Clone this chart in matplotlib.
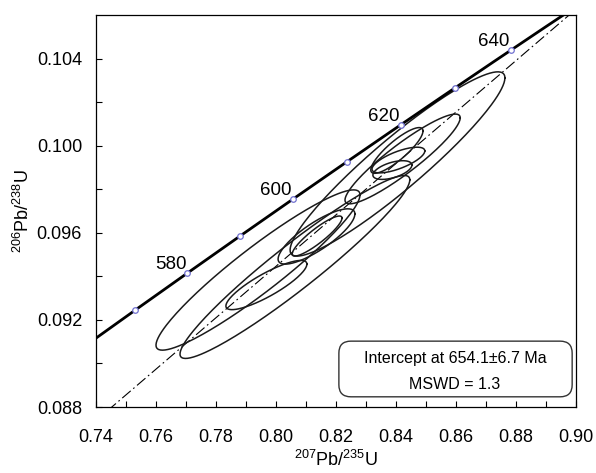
import numpy as np
import matplotlib.pyplot as plt
from matplotlib.patches import FancyBboxPatch

plt.rcParams["font.family"] = ["Liberation Sans", "DejaVu Sans"]
plt.rcParams["mathtext.fontset"] = "custom"
plt.rcParams["mathtext.rm"] = "Liberation Sans"

# decay constants (1/yr)
L238 = 1.55125e-10
L235 = 9.8485e-10

# concordia age marks (Ma)
marker_ages = [570, 580, 590, 600, 610, 620, 630, 640]
label_ages = [580, 600, 620, 640]

# discordia intercepts (Ma)
upper_age = 654.1
lower_age = 0.0

# analyses: 207Pb/235U, 206Pb/238U, 2s errors, error correlation
x_ratio = [0.7940, 0.8063, 0.7968, 0.8135, 0.8137, 0.8403, 0.8408, 0.8388, 0.8422, 0.8405]
x_err = [0.0340, 0.0383, 0.0135, 0.0128, 0.0083, 0.0087, 0.0088, 0.0065, 0.0192, 0.0358]
y_ratio = [0.09429, 0.09443, 0.09360, 0.09583, 0.09585, 0.09978, 0.09934, 0.09888, 0.09939, 0.09916]
y_err = [0.00368, 0.00420, 0.00113, 0.00127, 0.00092, 0.00105, 0.00059, 0.00043, 0.00206, 0.00423]
rho = [0.937, 0.952, 0.850, 0.815, 0.895, 0.852, 0.707, 0.530, 0.916, 0.934]

intercept_text = "Intercept at 654.1\u00b16.7 Ma"
mswd_text = "MSWD = 1.3"


def concordia(t_ma):
    t = np.asarray(t_ma) * 1e6
    return np.exp(L235 * t) - 1, np.exp(L238 * t) - 1


fig = plt.figure(figsize=(5.96, 4.73), dpi=100)
ax = fig.add_axes([96 / 596, 66 / 473, 480 / 596, 392 / 473])

# discordia
dx, dy = concordia([lower_age, upper_age])
ax.plot(dx, dy, color="black", lw=0.8, ls=(0, (10, 3, 1.5, 3)), zorder=2)

# concordia curve
tt = np.linspace(540, 680, 300)
cx, cy = concordia(tt)
ax.plot(cx, cy, color="black", lw=2.0, zorder=3)

mx, my = concordia(marker_ages)
ax.plot(mx, my, "o", ms=4, mfc="white", mec="#7070d0", mew=0.9, zorder=4)
for age in label_ages:
    px, py = concordia(age)
    ax.annotate(str(age), (px, py), xytext=(-12, 0), textcoords="offset points",
                ha="center", va="bottom", fontsize=13.5)

# error ellipses
t = np.linspace(0, 2 * np.pi, 200)
for x0, sx, y0, sy, r in zip(x_ratio, x_err, y_ratio, y_err, rho):
    ex = x0 + sx * np.cos(t)
    ey = y0 + sy * (r * np.cos(t) + np.sqrt(1 - r ** 2) * np.sin(t))
    ax.plot(ex, ey, color="#1a1a1a", lw=1.1, zorder=2)

ax.set_xlim(0.74, 0.90)
ax.set_ylim(0.088, 0.106)
ax.set_xticks(np.arange(0.74, 0.9001, 0.02))
ax.set_xticks(np.arange(0.75, 0.9, 0.02), minor=True)
ax.set_yticks(np.arange(0.088, 0.1041, 0.004))
ax.set_yticks(np.arange(0.090, 0.106, 0.004), minor=True)
ax.xaxis.set_major_formatter(plt.FormatStrFormatter("%.2f"))
ax.yaxis.set_major_formatter(plt.FormatStrFormatter("%.3f"))
ax.tick_params(which="both", direction="in", length=4, width=0.8, labelsize=13)
ax.tick_params(axis="x", pad=16)
ax.tick_params(axis="y", pad=10)
for s in ax.spines.values():
    s.set_linewidth(0.9)

ax.set_xlabel(r"$\mathregular{^{207}Pb/^{235}U}$", fontsize=13, labelpad=3)
ax.set_ylabel(r"$\mathregular{^{206}Pb/^{238}U}$", fontsize=13, labelpad=3)

box = FancyBboxPatch((0.506, 0.026), 0.486, 0.142, transform=ax.transAxes,
                     boxstyle="round,pad=0,rounding_size=0.025", mutation_aspect=1.22,
                     facecolor="white", edgecolor="#333333", lw=1.0, zorder=5)
ax.add_patch(box)
ax.text(0.748, 0.125, intercept_text, transform=ax.transAxes, ha="center",
        va="center", fontsize=11.5, zorder=6)
ax.text(0.748, 0.057, mswd_text, transform=ax.transAxes, ha="center",
        va="center", fontsize=11.5, zorder=6)

fig.savefig("out.png", dpi=100)
